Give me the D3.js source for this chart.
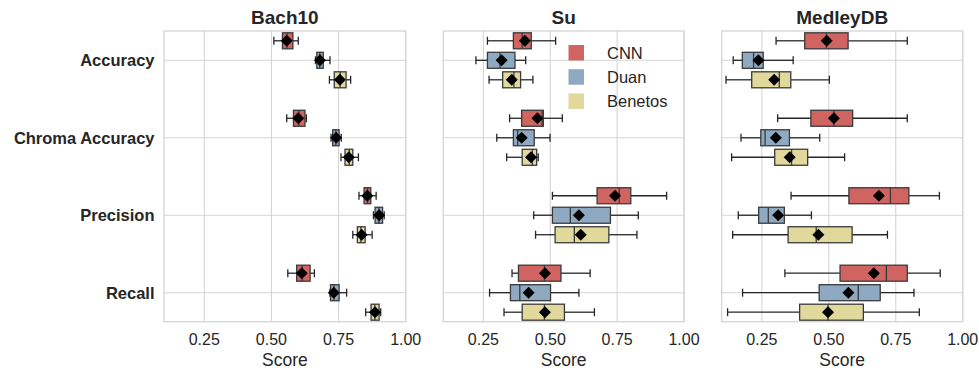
<!DOCTYPE html>
<html>
<head>
<meta charset="utf-8">
<script src="https://cdn.jsdelivr.net/npm/d3@7"></script>
<style>
  body { margin: 0; background: #fff; }
  text { font-family: "Liberation Sans", Arial, sans-serif; fill: #262626; }
</style>
</head>
<body>
<div id="chart"></div>
<script>
const categories = ["Accuracy", "Chroma Accuracy", "Precision", "Recall"];
const seriesNames = ["CNN", "Duan", "Benetos"];
const datasets = ["Bach10", "Su", "MedleyDB"];
const xTicks = [0.25, 0.5, 0.75, 1.0];

// each row: [whiskerLow, q1, median, q3, whiskerHigh, mean]
const bach10CNN = [[0.509, 0.541, 0.558, 0.580, 0.600, 0.557], [0.557, 0.582, 0.602, 0.625, 0.630, 0.600], [0.826, 0.845, 0.858, 0.870, 0.890, 0.857], [0.561, 0.594, 0.615, 0.644, 0.660, 0.613]];
const bach10Duan = [[0.664, 0.669, 0.680, 0.693, 0.718, 0.681], [0.722, 0.728, 0.740, 0.752, 0.760, 0.741], [0.880, 0.886, 0.900, 0.914, 0.920, 0.901], [0.718, 0.720, 0.733, 0.752, 0.780, 0.732]];
const bach10Benetos = [[0.716, 0.734, 0.756, 0.778, 0.795, 0.755], [0.759, 0.774, 0.790, 0.803, 0.824, 0.788], [0.803, 0.820, 0.833, 0.849, 0.875, 0.836], [0.851, 0.871, 0.885, 0.901, 0.907, 0.886]];
const suCNN = [[0.265, 0.362, 0.395, 0.429, 0.520, 0.405], [0.348, 0.393, 0.470, 0.474, 0.545, 0.452], [0.508, 0.675, 0.758, 0.801, 0.935, 0.742], [0.357, 0.381, 0.478, 0.540, 0.649, 0.480]];
const suDuan = [[0.222, 0.265, 0.312, 0.368, 0.408, 0.318], [0.300, 0.362, 0.378, 0.440, 0.499, 0.393], [0.438, 0.508, 0.575, 0.725, 0.829, 0.607], [0.273, 0.351, 0.386, 0.501, 0.607, 0.419]];
const suBenetos = [[0.271, 0.322, 0.364, 0.389, 0.435, 0.356], [0.337, 0.395, 0.433, 0.449, 0.455, 0.428], [0.445, 0.518, 0.590, 0.719, 0.824, 0.614], [0.327, 0.395, 0.478, 0.553, 0.665, 0.480]];
const medleyCNN = [[0.303, 0.410, 0.491, 0.572, 0.793, 0.492], [0.309, 0.433, 0.519, 0.589, 0.793, 0.519], [0.359, 0.575, 0.730, 0.799, 0.913, 0.687], [0.336, 0.542, 0.715, 0.793, 0.916, 0.668]];
const medleyDuan = [[0.143, 0.177, 0.219, 0.255, 0.367, 0.237], [0.172, 0.246, 0.262, 0.353, 0.466, 0.302], [0.162, 0.238, 0.274, 0.334, 0.435, 0.311], [0.178, 0.464, 0.610, 0.692, 0.818, 0.573]];
const medleyBenetos = [[0.116, 0.212, 0.315, 0.358, 0.502, 0.296], [0.137, 0.298, 0.361, 0.421, 0.559, 0.354], [0.141, 0.348, 0.453, 0.587, 0.719, 0.461], [0.122, 0.391, 0.497, 0.629, 0.838, 0.497]];

const panelData = [
  [bach10CNN, bach10Duan, bach10Benetos],
  [suCNN, suDuan, suBenetos],
  [medleyCNN, medleyDuan, medleyBenetos]
];

const colors = d3.scaleOrdinal().domain(seriesNames).range(["#d06461", "#8eaac2", "#e1d89b"]);

const width = 979, height = 372;
const svg = d3.select("#chart").append("svg").attr("width", width).attr("height", height);

const panelX = [[164, 405.7], [443.3, 684], [721.7, 962.7]];
const plotTop = 31, plotBottom = 321.7;

const y = d3.scalePoint().domain(categories).range([60.3, 292.7]);
const yHue = d3.scaleBand().domain(seriesNames).range([-29.25, 29.25]);
const boxH = 16;
const capH = 8;

// mean marker: square turned 45 degrees
const diamond = d3.symbol().type(d3.symbolSquare).size(72);

panelData.forEach(function (series, p) {
  const x = d3.scaleLinear().domain([0.1, 1.0]).range(panelX[p]);
  const g = svg.append("g");

  // grid
  g.selectAll(".vgrid").data(xTicks).enter().append("line")
    .attr("x1", d => x(d)).attr("x2", d => x(d))
    .attr("y1", plotTop).attr("y2", plotBottom)
    .attr("stroke", "#d5d5d5").attr("stroke-width", 1.1);
  g.selectAll(".hgrid").data(categories).enter().append("line")
    .attr("x1", panelX[p][0]).attr("x2", panelX[p][1])
    .attr("y1", d => y(d)).attr("y2", d => y(d))
    .attr("stroke", "#d5d5d5").attr("stroke-width", 1.1);
  g.append("rect")
    .attr("x", panelX[p][0]).attr("y", plotTop)
    .attr("width", panelX[p][1] - panelX[p][0]).attr("height", plotBottom - plotTop)
    .attr("fill", "none").attr("stroke", "#d5d5d5").attr("stroke-width", 1.3);

  // boxes
  series.forEach(function (rows, s) {
    const name = seriesNames[s];
    rows.forEach(function (d, c) {
      const cy = y(categories[c]) + yHue(name) + yHue.bandwidth() / 2;
      const bg = g.append("g");
      bg.append("line").attr("x1", x(d[0])).attr("x2", x(d[1])).attr("y1", cy).attr("y2", cy)
        .attr("stroke", "#262626").attr("stroke-width", 1.3);
      bg.append("line").attr("x1", x(d[3])).attr("x2", x(d[4])).attr("y1", cy).attr("y2", cy)
        .attr("stroke", "#262626").attr("stroke-width", 1.3);
      [d[0], d[4]].forEach(function (v) {
        bg.append("line").attr("x1", x(v)).attr("x2", x(v))
          .attr("y1", cy - capH / 2).attr("y2", cy + capH / 2)
          .attr("stroke", "#262626").attr("stroke-width", 1.3);
      });
      bg.append("rect")
        .attr("x", x(d[1])).attr("y", cy - boxH / 2)
        .attr("width", x(d[3]) - x(d[1])).attr("height", boxH)
        .attr("fill", colors(name)).attr("stroke", "#3a3a3a").attr("stroke-width", 1.3);
      bg.append("line").attr("x1", x(d[2])).attr("x2", x(d[2]))
        .attr("y1", cy - boxH / 2).attr("y2", cy + boxH / 2)
        .attr("stroke", "#3a3a3a").attr("stroke-width", 1.3);
      bg.append("path").attr("d", diamond)
        .attr("transform", "translate(" + x(d[5]) + "," + cy + ") rotate(45)")
        .attr("fill", "#000");
    });
  });

  // x axis
  g.selectAll(".tick").data(xTicks).enter().append("text")
    .attr("x", d => x(d)).attr("y", 344.5)
    .attr("text-anchor", "middle").attr("font-size", "16px")
    .text(d => d3.format(".2f")(d));
  g.append("text")
    .attr("x", (panelX[p][0] + panelX[p][1]) / 2).attr("y", 365.5)
    .attr("text-anchor", "middle").attr("font-size", "17.5px")
    .text("Score");
  g.append("text")
    .attr("x", (panelX[p][0] + panelX[p][1]) / 2).attr("y", 23.5)
    .attr("text-anchor", "middle").attr("font-size", "19px").attr("font-weight", "bold")
    .text(datasets[p]);
});

// category labels
svg.selectAll(".cat").data(categories).enter().append("text")
  .attr("x", 154.5).attr("y", d => y(d) + 6)
  .attr("text-anchor", "end").attr("font-size", "16.5px").attr("font-weight", "bold")
  .text(d => d);

// legend (in Su panel)
const legend = svg.append("g").attr("transform", "translate(568.5,45)");
seriesNames.forEach(function (name, i) {
  legend.append("rect").attr("x", 0).attr("y", i * 24.2)
    .attr("width", 15.5).attr("height", 15.5).attr("fill", colors(name));
  legend.append("text").attr("x", 38.5).attr("y", i * 24.2 + 13.8)
    .attr("font-size", "16.5px").text(name);
});
</script>
</body>
</html>
